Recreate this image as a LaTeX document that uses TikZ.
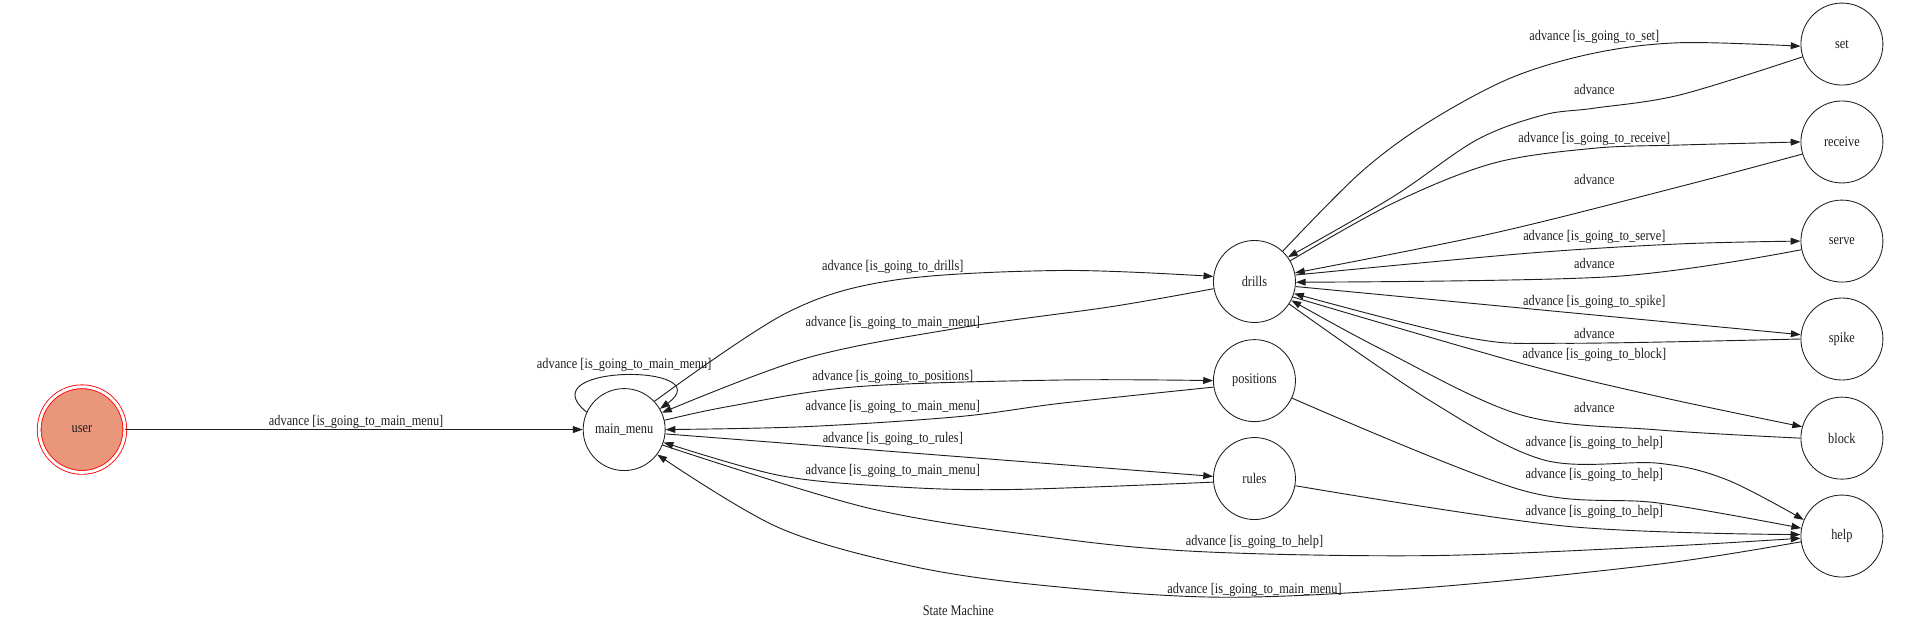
\documentclass[tikz,border=0pt]{standalone}
\usepackage{fontspec}
\setmainfont{Liberation Serif}[FakeStretch=0.84]
\usetikzlibrary{arrows.meta}
\definecolor{salmonfill}{RGB}{233,150,122}
\definecolor{inkc}{RGB}{30,30,30}
\begin{document}
\begin{tikzpicture}[x=1pt,y=-1pt,
  st/.style={circle, draw=inkc, line width=0.7pt, minimum size=67pt, inner sep=0pt, text=inkc, font=\fontsize{12}{14}\selectfont},
  edge/.style={draw=inkc, line width=0.75pt, -{Triangle[length=8pt,width=5.6pt]}},
  lbl/.style={font=\fontsize{12}{14}\selectfont, inner sep=0pt, text=inkc},
  sm/.style={smooth, tension=0.55}]
\useasboundingbox (0,0) rectangle (1568,510.7);
% nodes
\node[st, fill=salmonfill, draw=red, double=white, double distance=2.4pt, minimum size=70pt] (U) at (67,351) {user};
\node[st] (M) at (510,351) {main\_menu};
\node[st] (D) at (1025,230) {drills};
\node[st] (P) at (1025,311) {positions};
\node[st] (R) at (1025,391) {rules};
\node[st] (S) at (1505,36) {set};
\node[st] (Rc) at (1505,116) {receive};
\node[st] (Sv) at (1505,197) {serve};
\node[st] (Sp) at (1505,277) {spike};
\node[st] (B) at (1505,358) {block};
\node[st] (H) at (1505,438) {help};
% edges
\draw[edge] (U) -- (M);
\draw[edge] (M.155) .. controls (430,297) and (590,297) .. (M.30);
\draw[edge] plot[sm] coordinates {(M.43) (642,256) (730,229) (867,221) (D.173)};
\draw[edge] plot[sm] coordinates {(D.190) (908.5,250.5) (783.6,268) (658.5,292.7) (M.24)};
\draw[edge] plot[sm] coordinates {(M.13) (596,332) (700,316) (867,310.5) (P.180)};
\draw[edge] plot[sm] coordinates {(P.189) (867,329.5) (783.6,340.4) (658.5,348.6) (M.0)};
\draw[edge] (M.-6) -- (R.177);
\draw[edge] plot[sm] coordinates {(R.185) (825,400) (729.6,397.6) (637,388.5) (M.-18.5)};
\draw[edge] plot[sm] coordinates {(M.-22) (709,415) (855,438.7) (980,450.7) (1167.5,454) (1355,446.6) (H.183)};
\draw[edge] plot[sm] coordinates {(H.188) (1355,461) (1167,480) (1000,488) (855,478.6) (745.5,462.7) (636,431) (M.-37)};
\draw[edge] plot[sm] coordinates {(D.47.6) (1111,141.6) (1165.6,100.8) (1233.7,64) (1301.7,43.6) (1372.5,34.9) (S.183)};
\draw[edge] plot[sm] coordinates {(S.198.6) (1372.5,77.6) (1301.7,88.5) (1260.9,94) (1206.4,114.4) (1138.3,160.7) (D.36)};
\draw[edge] plot[sm] coordinates {(D.30) (1138.3,166) (1220,133.4) (1301.7,121.2) (1372.5,118.5) (Rc.180)};
\draw[edge] plot[sm] coordinates {(Rc.197) (1372.5,152.5) (1220,190.6) (D.12.8)};
\draw[edge] plot[sm] coordinates {(D.9) (1247.3,207) (1372.5,199.3) (Sv.180)};
\draw[edge] plot[sm] coordinates {(Sv.192) (1317.7,226) (D.-1)};
\draw[edge] (D.-7.5) -- (Sp.174);
\draw[edge] plot[sm] coordinates {(Sp.180) (1280,280.5) (1200,276) (D.-17.5)};
\draw[edge] plot[sm] coordinates {(D.-22) (1242.7,296.8) (1355,324) (B.164.5)};
\draw[edge] plot[sm] coordinates {(B.180) (1355,351.3) (1242.7,339) (1130,286) (D.-27.5)};
\draw[edge] plot[sm] coordinates {(D.-33) (1167.5,326.8) (1261.4,375.8) (1355,378.5) (1411,392) (H.157.6)};
\draw[edge] plot[sm] coordinates {(P.-25.4) (1242.7,400.3) (1355,411) (H.169)};
\draw[edge] plot[sm] coordinates {(R.-10.6) (1280,430) (H.178)};
% labels
\node[lbl] (l1) at (291,345) {advance [is\_going\_to\_main\_menu]};
\node[lbl] (l2) at (510,298) {advance [is\_going\_to\_main\_menu]};
\node[lbl] (l3) at (729.5,218) {advance [is\_going\_to\_drills]};
\node[lbl] (l4) at (729.5,264) {advance [is\_going\_to\_main\_menu]};
\node[lbl] (l5) at (729.5,307.7) {advance [is\_going\_to\_positions]};
\node[lbl] (l6) at (729.5,332.8) {advance [is\_going\_to\_main\_menu]};
\node[lbl] (l7) at (729.5,359) {advance [is\_going\_to\_rules]};
\node[lbl] (l8) at (729.5,385) {advance [is\_going\_to\_main\_menu]};
\node[lbl] (l9) at (1025,443) {advance [is\_going\_to\_help]};
\node[lbl] (l10) at (1025,482) {advance [is\_going\_to\_main\_menu]};
\node[lbl] (l11) at (1302.7,30) {advance [is\_going\_to\_set]};
\node[lbl] (l12) at (1302.7,73) {advance};
\node[lbl] (l13) at (1302.7,113.8) {advance [is\_going\_to\_receive]};
\node[lbl] (l14) at (1302.7,147) {advance};
\node[lbl] (l15) at (1302.7,194) {advance [is\_going\_to\_serve]};
\node[lbl] (l16) at (1302.7,215) {advance};
\node[lbl] (l17) at (1302.7,246.5) {advance [is\_going\_to\_spike]};
\node[lbl] (l18) at (1302.7,272.3) {advance};
\node[lbl] (l19) at (1302.7,290) {advance [is\_going\_to\_block]};
\node[lbl] (l20) at (1302.7,332.8) {advance};
\node[lbl] (l21) at (1302.7,362.2) {advance [is\_going\_to\_help]};
\node[lbl] (l22) at (1302.7,388) {advance [is\_going\_to\_help]};
\node[lbl] (l23) at (1302.7,418) {advance [is\_going\_to\_help]};
\node[lbl] (title) at (783,499) {State Machine};
\end{tikzpicture}
\end{document}
